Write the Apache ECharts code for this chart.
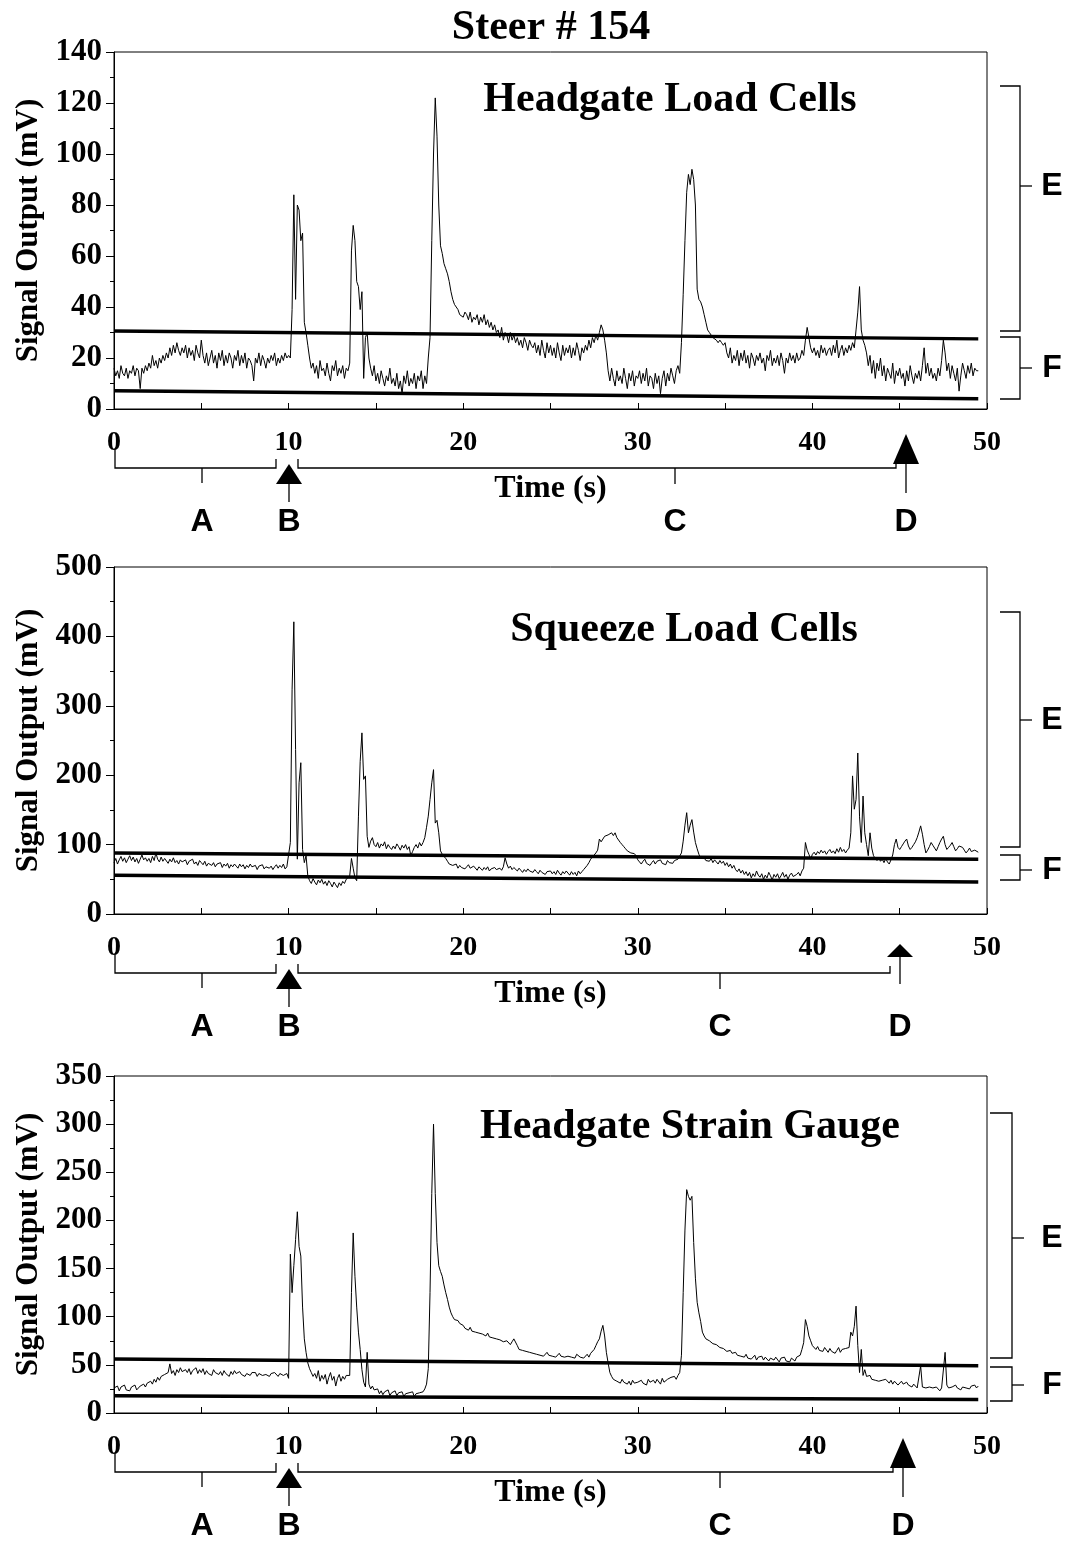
<!DOCTYPE html>
<html>
<head>
<meta charset="utf-8">
<script src="https://cdn.jsdelivr.net/npm/echarts@6/dist/echarts.min.js"></script>
<style>
  html, body { margin: 0; padding: 0; background: #fff; }
  #chart { width: 1068px; height: 1541px; }
</style>
</head>
<body>
<div id="chart"></div>
<script>
// sampling step of the traces (s)
var timeStep = 0.1;

// Headgate load cells (mV), one row = 1 s
var loadCells = [
  16,13,15,12,17,14,13,16,12,15,
  14,17,13,16,15,8,16,14,17,15,
  18,16,21,17,19,16,20,18,21,19,
  22,20,24,21,25,22,26,23,21,24,
  22,25,20,24,21,23,19,25,22,20,
  27,21,18,22,17,20,23,18,21,16,
  22,19,23,17,21,18,22,20,16,21,
  19,23,17,21,18,22,16,20,19,17,
  11,20,18,22,17,21,19,16,20,18,
  21,19,22,17,20,18,21,19,22,20,
  21,20,39,84,43,80,78,66,69,34,
  30,25,20,16,18,14,17,12,19,15,
  16,13,18,14,11,17,15,19,13,16,
  14,17,12,16,15,18,62,72,66,50,
  48,39,46,12,28,30,20,16,13,17,
  11,14,10,15,12,9,13,11,16,10,
  12,9,14,8,11,6,13,10,15,9,
  12,10,14,8,13,11,15,8,13,10,
  20,28,66,100,122,107,80,64,61,57,
  55,53,50,46,43,41,40,39,37,37,
  36,38,37,35,38,34,36,35,37,33,
  36,34,37,33,35,32,34,31,33,30,
  31,28,32,27,30,29,26,30,27,29,
  26,28,25,27,24,28,26,23,27,25,
  24,26,22,25,21,27,23,20,26,22,
  25,21,24,20,26,22,19,25,21,24,
  22,25,20,24,21,26,23,19,24,22,
  25,23,27,24,28,26,29,27,30,33,
  31,27,22,15,11,16,12,9,15,11,
  13,10,16,12,8,14,11,15,9,13,
  12,15,10,14,11,16,9,13,12,8,
  14,10,13,6,12,15,9,14,11,16,
  13,10,15,17,14,26,45,66,85,92,
  88,94,90,80,47,43,42,40,37,34,
  31,30,29,28,28,27,26,27,26,25,
  26,22,20,24,18,21,19,23,17,22,
  19,23,18,21,16,22,20,17,21,19,
  22,18,20,15,21,19,23,17,20,18,
  21,17,22,19,14,20,18,22,19,21,
  18,22,19,20,23,21,27,32,28,24,
  22,24,21,23,20,25,22,24,21,23,
  24,21,25,22,27,20,23,25,21,24,
  22,25,23,26,24,31,38,48,31,27,
  25,22,17,21,14,19,12,18,15,20,
  13,17,11,16,14,12,18,10,15,13,
  16,12,14,9,15,11,17,13,10,14,
  12,15,11,17,24,14,18,13,16,12,
  14,11,16,13,19,27,22,15,18,12,
  17,14,11,16,7,13,18,15,12,17,
  14,18,13,16,15,15
];

// Squeeze load cells (mV)
var squeezeCells = [
  74,80,72,78,83,76,81,74,79,84,
  77,82,75,80,73,79,85,78,81,76,
  80,74,83,77,88,79,75,82,76,80,
  78,73,79,75,81,74,77,72,78,75,
  73,78,71,76,74,79,72,75,70,77,
  74,71,76,69,73,75,70,74,68,72,
  70,74,67,72,69,73,66,71,68,72,
  69,66,72,68,71,65,70,67,72,68,
  66,70,64,69,67,71,65,68,70,66,
  69,64,68,71,66,70,67,72,65,68,
  67,103,323,421,237,79,189,218,93,74,
  84,55,48,44,51,46,42,49,45,50,
  43,47,41,48,44,39,46,42,38,45,
  41,47,44,50,48,55,80,66,52,48,
  141,220,261,194,199,112,96,105,110,100,
  97,103,95,101,98,104,94,100,96,93,
  98,94,101,97,92,99,95,100,93,97,
  84,90,96,100,95,103,98,103,110,125,
  141,165,189,208,131,135,117,91,86,84,
  80,76,72,74,70,68,72,66,70,67,
  69,65,68,71,66,64,69,67,63,68,
  66,63,67,64,68,62,65,63,67,64,
  62,66,63,68,81,72,66,69,64,67,
  65,62,66,63,60,64,61,65,62,63,
  60,64,61,58,63,60,62,57,61,59,
  62,58,61,57,63,59,56,61,58,62,
  59,56,61,57,60,55,62,58,61,64,
  65,70,74,79,82,85,88,92,108,104,
  108,112,110,114,116,117,113,117,110,108,
  103,100,97,94,91,89,88,86,87,84,
  78,75,72,76,79,73,75,70,74,77,
  72,76,74,78,73,75,71,77,74,76,
  73,77,75,79,80,88,105,128,146,117,
  128,136,118,103,94,86,80,78,81,77,
  79,76,80,74,78,75,72,77,73,76,
  70,74,68,72,66,70,64,61,65,59,
  63,57,61,55,60,52,58,54,62,56,
  53,58,50,56,52,60,55,49,57,53,
  58,51,55,60,53,57,50,56,59,54,
  52,57,60,55,62,66,103,92,86,79,
  86,89,85,90,87,92,88,91,86,90,
  93,88,91,87,94,89,96,90,93,88,
  92,95,117,199,151,165,232,140,103,170,
  117,100,84,117,95,84,80,77,81,76,
  79,74,80,75,72,78,85,100,108,96,
  93,97,101,105,108,98,93,96,100,104,
  110,118,127,115,100,88,92,97,103,99,
  95,91,97,103,108,112,100,93,96,99,
  103,97,91,94,98,100,96,92,88,91,
  95,90,88,92,91,89
];

// Headgate strain gauge (mV)
var strainGauge = [
  26,24,28,23,27,25,29,24,26,23,
  27,25,29,24,22,28,26,30,27,31,
  29,33,30,35,32,37,34,38,36,40,
  38,42,51,41,44,39,45,42,47,43,
  41,45,42,46,40,44,43,47,41,45,
  42,46,40,44,41,43,39,45,42,44,
  40,43,39,44,41,42,38,43,40,44,
  41,39,43,40,42,38,41,43,39,42,
  40,42,38,41,43,39,41,40,42,38,
  41,39,42,40,38,41,43,39,40,41,
  36,165,125,153,180,209,173,163,110,77,
  63,52,46,42,38,41,36,44,33,39,
  35,40,30,37,42,34,38,28,36,40,
  33,38,35,39,37,39,125,187,142,110,
  84,66,45,32,27,63,30,25,28,24,
  22,25,20,23,19,22,21,24,18,21,
  20,23,18,21,19,22,17,20,18,21,
  19,22,17,20,18,21,19,22,25,30,
  46,125,228,300,228,177,153,147,142,133,
  125,118,110,104,100,97,95,96,93,92,
  91,88,90,86,89,85,87,84,86,83,
  85,82,84,80,83,79,81,78,80,77,
  79,76,78,74,72,75,73,71,74,77,
  75,70,66,68,65,67,64,66,63,65,
  62,64,61,63,60,62,59,61,63,60,
  62,59,61,58,60,62,59,61,58,60,
  59,61,58,60,57,61,59,58,60,57,
  59,61,58,62,64,66,70,74,77,85,
  91,80,63,52,42,38,35,36,33,34,
  31,35,32,34,30,33,29,34,31,33,
  32,30,34,31,33,29,35,32,30,34,
  31,35,33,30,36,32,34,35,33,37,
  36,38,35,39,42,60,125,190,232,225,
  221,225,177,140,115,104,95,84,80,77,
  77,75,73,72,70,71,69,68,70,67,
  66,64,63,65,62,61,63,60,62,59,
  60,58,61,57,59,56,58,60,55,58,
  57,59,55,58,56,54,57,59,55,58,
  56,53,57,55,58,54,56,53,57,55,
  54,58,56,60,66,73,97,90,80,75,
  70,68,66,69,65,67,64,68,66,63,
  67,64,66,62,65,68,63,66,64,67,
  65,68,84,80,90,111,70,42,66,39,
  45,38,36,39,35,37,34,36,33,35,
  34,32,35,33,31,34,30,33,32,29,
  31,33,30,28,32,29,31,27,30,28,
  26,28,49,27,25,26,24,27,25,26,
  24,27,25,23,26,28,63,29,26,28,
  27,25,29,26,28,24,27,29,26,28,
  25,28,27,29,26,28
];

// threshold lines: value at start and end of record
var lineTimes = [0, 49.5];
var loadUpper = [30.6, 27.5];
var loadLower = [7.2, 4];
var squeezeUpper = [88, 79];
var squeezeLower = [56, 46];
var strainUpper = [56, 49];
var strainLower = [18, 14];

var yMax = [140, 500, 350];
var yStep = [20, 100, 50];
var panelTitles = ['Headgate Load Cells', 'Squeeze Load Cells', 'Headgate Strain Gauge'];
var xTickLabels = [0, 10, 20, 30, 40, 50];

var serif = '"Liberation Serif", "Times New Roman", serif';
var sans = '"Liberation Sans", Arial, sans-serif';

var chart = echarts.init(document.getElementById('chart'));

function toPoints(arr) {
  return arr.map(function (v, i) { return [+(i * timeStep).toFixed(1), v]; });
}
function linePoints(vals) {
  return [[lineTimes[0], vals[0]], [lineTimes[1], vals[1]]];
}

var gridBoxes = [
  { top: 52, height: 357 },
  { top: 567, height: 347 },
  { top: 1076, height: 337 }
];

var grids = [], xAxes = [], yAxes = [], series = [];
var traces = [loadCells, squeezeCells, strainGauge];
var uppers = [loadUpper, squeezeUpper, strainUpper];
var lowers = [loadLower, squeezeLower, strainLower];

gridBoxes.forEach(function (g, i) {
  grids.push({
    left: 114, right: 81, top: g.top, height: g.height,
    show: true, borderColor: '#000', borderWidth: 1, backgroundColor: 'transparent'
  });
  xAxes.push({
    gridIndex: i, type: 'value', min: 0, max: 50, interval: 5,
    name: 'Time (s)', nameLocation: 'middle', nameGap: 64,
    nameTextStyle: { fontFamily: serif, fontWeight: 'bold', fontSize: 32, color: '#000' },
    axisLine: { lineStyle: { color: '#000', width: 1 } },
    axisTick: { inside: true, length: 6, lineStyle: { color: '#000' } },
    axisLabel: {
      margin: 20, fontFamily: serif, fontWeight: 'bold', fontSize: 28, color: '#000',
      formatter: function (v) { return xTickLabels.indexOf(v) >= 0 ? String(v) : ''; }
    },
    splitLine: { show: false }
  });
  yAxes.push({
    gridIndex: i, type: 'value', min: 0, max: yMax[i], interval: yStep[i],
    name: 'Signal Output (mV)', nameLocation: 'middle', nameGap: 70, nameRotate: 90,
    nameTextStyle: { fontFamily: serif, fontWeight: 'bold', fontSize: 31, color: '#000' },
    axisLine: { show: true, lineStyle: { color: '#000', width: 1 } },
    axisTick: { show: true, length: 8, lineStyle: { color: '#000' } },
    minorTick: { show: true, splitNumber: 2, length: 4, lineStyle: { color: '#000' } },
    axisLabel: { margin: 12, fontFamily: serif, fontWeight: 'bold', fontSize: 31, color: '#000' },
    splitLine: { show: false }
  });
  series.push({
    type: 'line', xAxisIndex: i, yAxisIndex: i, data: toPoints(traces[i]),
    showSymbol: false, lineStyle: { color: '#000', width: 1 }, z: 3
  });
  series.push({
    type: 'line', xAxisIndex: i, yAxisIndex: i, data: linePoints(uppers[i]),
    showSymbol: false, lineStyle: { color: '#000', width: 3.5 }, z: 4
  });
  series.push({
    type: 'line', xAxisIndex: i, yAxisIndex: i, data: linePoints(lowers[i]),
    showSymbol: false, lineStyle: { color: '#000', width: 3.5 }, z: 4
  });
});

// annotation layout per panel (pixels)
var notes = [
  { axisY: 409, titleX: 670, titleY: 100, e: [86, 331, 186], f: [337, 399, 368], bx: 1020, bl: 1000, cx: 675, dx: 906, dBig: true },
  { axisY: 914, titleX: 684, titleY: 630, e: [612, 847, 720], f: [855, 880, 870], bx: 1020, bl: 1000, cx: 720, dx: 900, dBig: false },
  { axisY: 1413, titleX: 690, titleY: 1127, e: [1113, 1358, 1238], f: [1367, 1401, 1385], bx: 1012, bl: 990, cx: 720, dx: 903, dBig: true }
];

var lineStyleThin = { stroke: '#000', lineWidth: 1.3, fill: null };
function poly(points) {
  return { type: 'polyline', shape: { points: points }, style: lineStyleThin, silent: true };
}
function label(text, x, y, size, family) {
  return {
    type: 'text', x: x, y: y, silent: true,
    style: { text: text, fill: '#000', fontSize: size, fontWeight: 'bold', fontFamily: family, align: 'center', verticalAlign: 'middle' }
  };
}

var graphics = [label('Steer # 154', 551, 28, 42, serif)];
notes.forEach(function (n, i) {
  var y0 = n.axisY;
  graphics.push(label(panelTitles[i], n.titleX, n.titleY, 42, serif));
  // A bracket
  graphics.push(poly([[115, y0 + 40], [115, y0 + 59], [276, y0 + 59], [276, y0 + 50]]));
  graphics.push(poly([[202, y0 + 59], [202, y0 + 74]]));
  graphics.push(label('A', 202, y0 + 113, 32, sans));
  // B arrow
  graphics.push({ type: 'polygon', shape: { points: [[289, y0 + 55], [276, y0 + 75], [302, y0 + 75]] }, style: { fill: '#000' }, silent: true });
  graphics.push(poly([[289, y0 + 75], [289, y0 + 93]]));
  graphics.push(label('B', 289, y0 + 113, 32, sans));
  // C bracket
  graphics.push(poly([[298, y0 + 50], [298, y0 + 59], [n.dx - 10, y0 + 59], [n.dx - 10, y0 + 52]]));
  graphics.push(poly([[n.cx, y0 + 59], [n.cx, y0 + 75]]));
  graphics.push(label('C', n.cx, y0 + 113, 32, sans));
  // D arrow
  if (n.dBig) {
    graphics.push({ type: 'polygon', shape: { points: [[n.dx, y0 + 25], [n.dx - 13, y0 + 55], [n.dx + 13, y0 + 55]] }, style: { fill: '#000' }, silent: true });
    graphics.push(poly([[n.dx, y0 + 55], [n.dx, y0 + 84]]));
  } else {
    graphics.push({ type: 'polygon', shape: { points: [[n.dx, y0 + 30], [n.dx - 13, y0 + 43], [n.dx + 13, y0 + 43]] }, style: { fill: '#000' }, silent: true });
    graphics.push(poly([[n.dx, y0 + 43], [n.dx, y0 + 70]]));
  }
  graphics.push(label('D', n.dx, y0 + 113, 32, sans));
  // E and F brackets
  graphics.push(poly([[n.bl, n.e[0]], [n.bx, n.e[0]], [n.bx, n.e[1]], [n.bl, n.e[1]]]));
  graphics.push(poly([[n.bx, n.e[2]], [n.bx + 12, n.e[2]]]));
  graphics.push(label('E', 1052, n.e[2], 32, sans));
  graphics.push(poly([[n.bl, n.f[0]], [n.bx, n.f[0]], [n.bx, n.f[1]], [n.bl, n.f[1]]]));
  graphics.push(poly([[n.bx, n.f[2]], [n.bx + 12, n.f[2]]]));
  graphics.push(label('F', 1052, n.f[2], 32, sans));
});

chart.setOption({
  animation: false,
  backgroundColor: '#fff',
  grid: grids,
  xAxis: xAxes,
  yAxis: yAxes,
  series: series,
  graphic: graphics
});

window.addEventListener('resize', function () { chart.resize(); });
</script>
</body>
</html>
